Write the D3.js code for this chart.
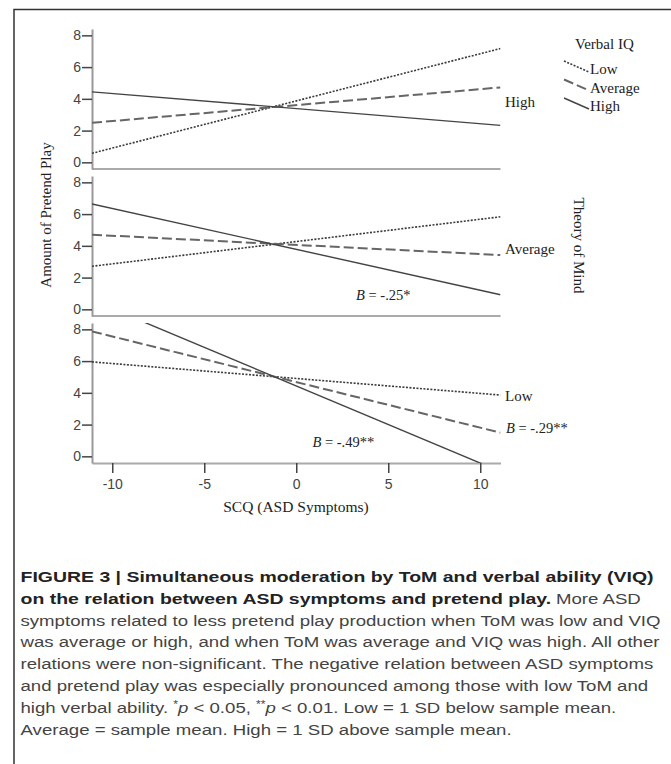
<!DOCTYPE html>
<html>
<head>
<meta charset="utf-8">
<script src="https://cdn.jsdelivr.net/npm/d3@7"></script>
<style>
  body { margin: 0; background: #fff; }
  svg { display: block; }
  .serif { font-family: "Liberation Serif", "Times New Roman", serif; fill: #222; }
  .tick text { font-family: "Liberation Sans", Arial, sans-serif; font-size: 14px; fill: #444; }
  .caption { font-family: "Liberation Sans", Arial, sans-serif; font-size: 15.5px; fill: #444; }
</style>
</head>
<body>
<div id="chart"></div>
<script>
const width = 671;
const height = 764;

// SCQ (centred) range spanned by the fitted lines
const scqRange = [-11.1, 11.1];
const xTicks = [-10, -5, 0, 5, 10];
const yTicks = [0, 2, 4, 6, 8];

// panels top to bottom are ToM levels, lines inside are VIQ levels
const tomLevels = ["High", "Average", "Low"];
const viqLevels = ["Low", "Average", "High"];

// predicted pretend play at both ends of scqRange, in viqLevels order
const highTomPlay = [[0.57, 7.17], [2.49, 4.72], [4.44, 2.33]];
const averageTomPlay = [[2.71, 5.83], [4.70, 3.42], [6.64, 0.92]];
const lowTomPlay = [[5.95, 3.86], [7.87, 1.49], [9.83, -0.96]];
const panelPlay = [highTomPlay, averageTomPlay, lowTomPlay];

const captionTitle = [
    "FIGURE 3 | Simultaneous moderation by ToM and verbal ability (VIQ)",
    "on the relation between ASD symptoms and pretend play."
];
const captionLines = [
    [{ t: "More ASD" }],
    [{ t: "symptoms related to less pretend play production when ToM was low and VIQ" }],
    [{ t: "was average or high, and when ToM was average and VIQ was high. All other" }],
    [{ t: "relations were non-significant. The negative relation between ASD symptoms" }],
    [{ t: "and pretend play was especially pronounced among those with low ToM and" }],
    [{ t: "high verbal ability. " }, { t: "*", sup: true }, { t: "p", i: true }, { t: " < 0.05, " },
     { t: "**", sup: true }, { t: "p", i: true }, { t: " < 0.01. Low = 1 SD below sample mean." }],
    [{ t: "Average = sample mean. High = 1 SD above sample mean." }]
];

const lineStyle = {
    Low: { dash: "2,1.5", w: 1.6, color: "#3a3a3a" },
    Average: { dash: "10,4", w: 2, color: "#666" },
    High: { dash: null, w: 1.4, color: "#444" }
};

const svg = d3.select("#chart").append("svg")
    .attr("width", width)
    .attr("height", height);

svg.append("rect")
    .attr("x", 14).attr("y", 9.5)
    .attr("width", 700).attr("height", 800)
    .attr("fill", "none")
    .attr("stroke", "#333")
    .attr("stroke-width", 1.5);

const x = d3.scaleLinear().domain(scqRange).range([92, 500.5]);
const panelHeight = 140;
const panelTop = (i) => 29 + 147 * i;

tomLevels.forEach((tom, i) => {
    const top = panelTop(i);
    const y = d3.scaleLinear().domain([-0.42, 8.4]).range([top + panelHeight, top]);
    const g = svg.append("g").attr("class", "panel");

    g.append("clipPath").attr("id", "clip" + i)
        .append("rect")
        .attr("x", x.range()[0]).attr("y", top)
        .attr("width", x.range()[1] - x.range()[0])
        .attr("height", panelHeight);

    // bottom line / x axis
    if (i < tomLevels.length - 1) {
        g.append("line")
            .attr("x1", x.range()[0]).attr("x2", x.range()[1])
            .attr("y1", top + panelHeight).attr("y2", top + panelHeight)
            .attr("stroke", "#aaa").attr("stroke-width", 2);
    } else {
        const xAxis = g.append("g")
            .attr("transform", `translate(0,${top + panelHeight})`)
            .call(d3.axisBottom(x).tickValues(xTicks).tickFormat((d) => String(d))
                .tickSize(10).tickSizeOuter(0).tickPadding(6));
        xAxis.select(".domain").attr("stroke", "#aaa").attr("stroke-width", 2);
        xAxis.selectAll(".tick line").attr("stroke", "#444").attr("stroke-width", 1.5);
    }

    const yAxis = g.append("g")
        .attr("transform", `translate(${x.range()[0]},0)`)
        .call(d3.axisLeft(y).tickValues(yTicks).tickSize(10).tickSizeOuter(0).tickPadding(1));
    yAxis.select(".domain").attr("stroke", "#999").attr("stroke-width", 2);
    yAxis.selectAll(".tick line").attr("stroke", "#444").attr("stroke-width", 1.5);

    const line = d3.line().x((d) => x(d[0])).y((d) => y(d[1]));
    const series = panelPlay[i].map((v, j) => ({
        viq: viqLevels[j],
        points: [[scqRange[0], v[0]], [scqRange[1], v[1]]]
    }));

    g.append("g").attr("clip-path", `url(#clip${i})`)
        .selectAll("path")
        .data(series)
        .join("path")
        .attr("d", (d) => line(d.points))
        .attr("fill", "none")
        .attr("stroke", (d) => lineStyle[d.viq].color)
        .attr("stroke-width", (d) => lineStyle[d.viq].w)
        .attr("stroke-dasharray", (d) => lineStyle[d.viq].dash);

    // ToM level on the right
    g.append("text").attr("class", "serif")
        .attr("x", 505).attr("y", y(3.5))
        .style("font-size", "15px")
        .text(tom);

    // significant slopes
    const slope = (scq, play, txt, anchorX) => {
        const t = g.append("text").attr("class", "serif")
            .attr("x", anchorX !== undefined ? anchorX : x(scq))
            .attr("y", y(play))
            .style("font-size", "14.5px");
        t.append("tspan").style("font-style", "italic").text("B");
        t.append("tspan").text(" = " + txt);
    };
    if (tom === "Average") slope(3.25, 0.59, "-.25*");
    if (tom === "Low") {
        slope(0.88, 0.59, "-.49**");
        slope(null, 1.47, "-.29**", 506);
    }
});

// axis titles
svg.append("text").attr("class", "serif")
    .attr("transform", "translate(50.5,215) rotate(-90)")
    .attr("text-anchor", "middle")
    .style("font-size", "15px")
    .text("Amount of Pretend Play");

svg.append("text").attr("class", "serif")
    .attr("transform", "translate(574,245.5) rotate(90)")
    .attr("text-anchor", "middle")
    .style("font-size", "15px")
    .text("Theory of Mind");

svg.append("text").attr("class", "serif")
    .attr("x", 296).attr("y", 512)
    .attr("text-anchor", "middle")
    .style("font-size", "15.5px")
    .text("SCQ (ASD Symptoms)");

// legend
const legend = svg.append("g");
legend.append("text").attr("class", "serif")
    .attr("x", 575).attr("y", 49)
    .style("font-size", "15px")
    .text("Verbal IQ");
viqLevels.forEach((viq, j) => {
    const y0 = 61 + 18.5 * j;
    const s = lineStyle[viq];
    legend.append("line")
        .attr("x1", 564).attr("y1", y0)
        .attr("x2", 589).attr("y2", y0 + 11)
        .attr("stroke", s.color)
        .attr("stroke-width", s.w)
        .attr("stroke-dasharray", s.dash);
    legend.append("text").attr("class", "serif")
        .attr("x", 590).attr("y", y0 + 13)
        .style("font-size", "15px")
        .text(viq);
});

// caption: bold title lines and regular body, each widened to the printed width
const capX = 20.5;
const capY = (k) => 582 + 21.8 * k;
const titleRows = captionTitle.map((t, k) => svg.append("text").attr("class", "caption")
    .attr("x", capX).attr("y", capY(k))
    .style("font-weight", "bold").style("fill", "#222")
    .text(t));
const boldStretch = 633 / titleRows[0].node().getComputedTextLength();
const titleWidths = titleRows.map((row) => row.node().getComputedTextLength() * boldStretch);
titleRows.forEach((row, k) => row
    .attr("textLength", titleWidths[k])
    .attr("lengthAdjust", "spacingAndGlyphs"));
const titleEnd = capX + titleWidths[1] + 4.8;

const rows = captionLines.map((parts, k) => {
    const row = svg.append("text").attr("class", "caption")
        .attr("x", k === 0 ? titleEnd : capX).attr("y", capY(k + 1));
    parts.forEach((p, m) => {
        const ts = row.append("tspan").text(p.t);
        if (p.i) ts.style("font-style", "italic");
        if (p.sup) ts.style("font-size", "10px").attr("dy", "-5");
        if (m > 0 && parts[m - 1].sup) ts.attr("dy", "5");
    });
    return row;
});
const stretch = 640 / rows[1].node().getComputedTextLength();
rows.forEach((row) => row
    .attr("textLength", row.node().getComputedTextLength() * stretch)
    .attr("lengthAdjust", "spacingAndGlyphs"));
</script>
</body>
</html>
